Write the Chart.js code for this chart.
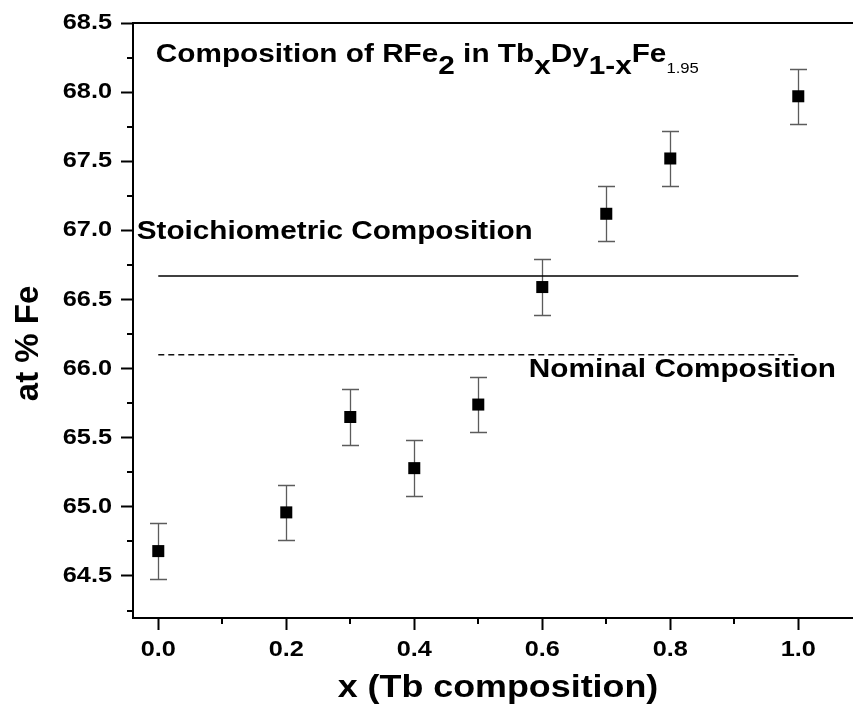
<!DOCTYPE html>
<html><head><meta charset="utf-8">
<script src="https://cdn.jsdelivr.net/npm/chart.js@4/dist/chart.umd.min.js"></script>
<style>html,body{margin:0;padding:0;background:#fff;overflow:hidden}canvas{display:block}</style>
</head><body>
<canvas id="c" width="853" height="707" style="width:853px;height:707px"></canvas>
<script>
// ---- data ----
const xValues  = [0.0, 0.2, 0.3, 0.4, 0.5, 0.6, 0.7, 0.8, 1.0];
const feValues = [64.68, 64.96, 65.65, 65.28, 65.74, 66.59, 67.12, 67.52, 67.97];
const feErrors = [0.2, 0.2, 0.2, 0.2, 0.2, 0.2, 0.2, 0.2, 0.2];
const stoichiometricFe = 66.67;
const nominalFe = 66.10;
const refLineX = [0.0, 1.0];
const xTicks = [0.0, 0.2, 0.4, 0.6, 0.8, 1.0];
const xMinorTicks = [0.1, 0.3, 0.5, 0.7, 0.9];
const yTicks = [64.5, 65.0, 65.5, 66.0, 66.5, 67.0, 67.5, 68.0, 68.5];
const yMinorTicks = [64.25, 64.75, 65.25, 65.75, 66.25, 66.75, 67.25, 67.75, 68.25];
const xTitle = 'x (Tb composition)';
const yTitle = 'at % Fe';
const stoichLabel = 'Stoichiometric Composition';
const nominalLabel = 'Nominal Composition';
// title pieces: [text, kind] kind: m = main, s = subscript, n = small subscript
const titleParts = [['Composition of RFe', 'm'], ['2', 's'], [' in Tb', 'm'], ['x', 's'], ['Dy', 'm'], ['1-x', 's'], ['Fe', 'm'], ['1.95', 'n']];

const FONT = '"Liberation Sans", Arial, Helvetica, sans-serif';

// wide-looking text of the original (Origin export): stretch some fonts horizontally
const STRETCH = {22: 1.15, 32: 1.12};
const origFill = CanvasRenderingContext2D.prototype.fillText;
CanvasRenderingContext2D.prototype.fillText = function (t, x, y, mw) {
  const m = /(\d+(?:\.\d+)?)px/.exec(this.font);
  const s = (m && STRETCH[Math.round(+m[1])]) || 1;
  if (s === 1) return mw === undefined ? origFill.call(this, t, x, y) : origFill.call(this, t, x, y, mw);
  this.save(); this.translate(x, y); this.scale(s, 1);
  mw === undefined ? origFill.call(this, t, 0, 0) : origFill.call(this, t, 0, 0, mw / s);
  this.restore();
};

function drawFit(ctx, text, font, left, right, baseline) {
  ctx.save();
  ctx.font = font; ctx.textAlign = 'left'; ctx.textBaseline = 'alphabetic';
  const m = ctx.measureText(text);
  const w = m.actualBoundingBoxLeft + m.actualBoundingBoxRight;
  const s = (right - left) / w;
  ctx.translate(left + m.actualBoundingBoxLeft * s, baseline);
  ctx.scale(s, 1);
  origFill.call(ctx, text, 0, 0);
  ctx.restore();
}

function drawTitle(ctx, left, right, base, subBase) {
  const fonts = {m: 'bold 25px ' + FONT, s: 'bold 25px ' + FONT, n: '14px ' + FONT};
  ctx.save();
  ctx.textAlign = 'left'; ctx.textBaseline = 'alphabetic';
  let total = 0; const widths = [];
  titleParts.forEach(([t, k]) => { ctx.font = fonts[k]; const w = ctx.measureText(t).width; widths.push(w); total += w; });
  ctx.font = fonts.m;
  const lead = ctx.measureText('C').actualBoundingBoxLeft;
  const s = (right - left) / total;
  ctx.translate(left + lead * s, 0);
  ctx.scale(s, 1);
  let x = 0;
  titleParts.forEach(([t, k], i) => {
    ctx.font = fonts[k];
    origFill.call(ctx, t, x, k === 'm' ? base : (k === 's' ? subBase : subBase - 1));
    x += widths[i];
  });
  ctx.restore();
}

const deco = {
  id: 'deco',
  beforeDatasetsDraw(chart) {
    const {ctx, chartArea: a, scales: {x, y}} = chart;
    ctx.save();
    ctx.strokeStyle = '#000'; ctx.lineWidth = 2;
    ctx.beginPath(); ctx.moveTo(a.left - 1, a.top); ctx.lineTo(a.right, a.top); ctx.stroke();
    ctx.beginPath();
    xMinorTicks.forEach(v => { const p = Math.round(x.getPixelForValue(v)); ctx.moveTo(p, a.bottom); ctx.lineTo(p, a.bottom + 6); });
    yMinorTicks.forEach(v => { const p = Math.round(y.getPixelForValue(v)); ctx.moveTo(a.left, p); ctx.lineTo(a.left - 6, p); });
    ctx.stroke();
    ctx.strokeStyle = '#5c5c5c'; ctx.lineWidth = 1.3;
    ctx.beginPath();
    xValues.forEach((xv, i) => {
      const px = Math.round(x.getPixelForValue(xv)) + 0.5;
      const t = Math.round(y.getPixelForValue(feValues[i] + feErrors[i])) + 0.5;
      const b = Math.round(y.getPixelForValue(feValues[i] - feErrors[i])) + 0.5;
      ctx.moveTo(px, t); ctx.lineTo(px, b);
      ctx.moveTo(px - 8.5, t); ctx.lineTo(px + 8.5, t);
      ctx.moveTo(px - 8.5, b); ctx.lineTo(px + 8.5, b);
    });
    ctx.stroke();
    ctx.restore();
  },
  afterDatasetsDraw(chart) {
    const ctx = chart.ctx;
    ctx.save();
    ctx.fillStyle = '#000';
    drawTitle(ctx, 157, 700, 62, 74);
    drawFit(ctx, stoichLabel, 'bold 26px ' + FONT, 136.7, 531.7, 239.3);
    drawFit(ctx, nominalLabel, 'bold 26px ' + FONT, 530, 835, 376.7);
    ctx.restore();
  }
};

const tickFont = {family: FONT, size: 22, weight: 'bold'};
new Chart(document.getElementById('c').getContext('2d'), {
  type: 'scatter',
  data: {
    datasets: [
      {label: 'Stoichiometric', data: refLineX.map(v => ({x: v, y: stoichiometricFe})), showLine: true,
       borderColor: '#000', borderWidth: 1.5, pointRadius: 0, fill: false},
      {label: 'Nominal', data: refLineX.map(v => ({x: v, y: nominalFe})), showLine: true,
       borderColor: '#111', borderWidth: 1.4, borderDash: [6, 4], pointRadius: 0, fill: false},
      {label: 'RFe2', data: xValues.map((v, i) => ({x: v, y: feValues[i]})), pointStyle: 'rect',
       pointRadius: 8.5, backgroundColor: '#000', borderColor: '#000', borderWidth: 0}
    ]
  },
  options: {
    responsive: false, animation: false, events: [],
    layout: {autoPadding: false, padding: {top: 23, right: 0, left: 0, bottom: 0}},
    plugins: {legend: {display: false}, tooltip: {enabled: false}},
    scales: {
      x: {
        type: 'linear', min: -0.0395, max: 1.0855,
        afterBuildTicks: s => { s.ticks = xTicks.map(v => ({value: v})); },
        afterFit: s => { s.height = 89; },
        border: {display: true, color: '#000', width: 2},
        grid: {display: true, drawOnChartArea: false, drawTicks: true, tickLength: 12, tickWidth: 2, tickColor: '#000'},
        ticks: {color: '#000', font: tickFont, padding: 7, maxRotation: 0, autoSkip: false, callback: v => Number(v).toFixed(1)},
        title: {display: true, text: ' ' + xTitle, color: '#000', font: {family: FONT, size: 32, weight: 'bold'}, padding: {top: 0, bottom: 0}}
      },
      y: {
        type: 'linear', min: 64.196, max: 68.5,
        afterBuildTicks: s => { s.ticks = yTicks.map(v => ({value: v})); },
        afterFit: s => { s.width = 133; },
        border: {display: true, color: '#000', width: 2},
        grid: {display: true, drawOnChartArea: false, drawTicks: true, tickLength: 12, tickWidth: 2, tickColor: '#000'},
        ticks: {color: '#000', font: tickFont, padding: 9, autoSkip: false, callback: v => Number(v).toFixed(1)},
        title: {display: true, text: yTitle + '     ', color: '#000', font: {family: FONT, size: 33, weight: 'bold'}, padding: {top: 9, bottom: 0}}
      }
    }
  },
  plugins: [deco]
});
</script>
</body></html>
